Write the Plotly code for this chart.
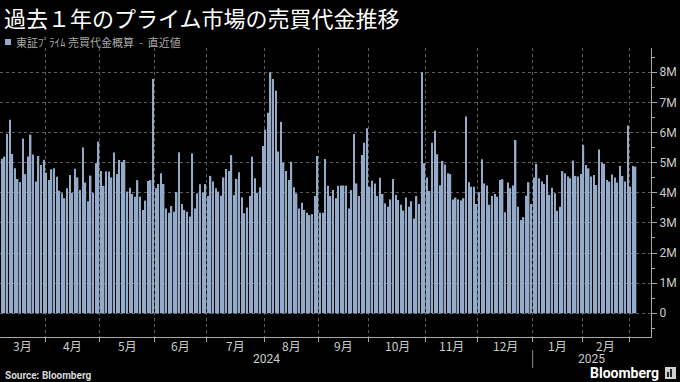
import plotly.graph_objects as go

# Daily trading value, TSE Prime (trillion yen, labelled "M"), per month
mar24 = [5.13, 5.2, 5.95, 6.42, 5.29, 4.81, 4.46, 4.36, 5.8, 4.62, 5.2, 5.93, 5.27, 4.37, 5.22, 4.92, 5.1]
apr24 = [4.67, 4.42, 4.78, 4.81, 4.53, 4.07, 3.98, 3.82, 4.15, 4.59, 4.0, 4.8, 4.51, 4.09, 5.5, 4.34, 3.72, 4.57, 4.0, 4.98, 5.7]
may24 = [4.72, 4.23, 4.71, 4.71, 4.51, 5.34, 4.62, 5.09, 5.02, 5.09, 4.04, 4.17, 3.96, 3.87, 4.42, 3.87, 3.43, 3.74, 4.39, 4.42, 7.78]
jun24 = [4.15, 4.29, 4.65, 4.29, 3.48, 3.34, 3.56, 3.37, 4.02, 5.34, 3.63, 3.43, 3.37, 3.21, 5.31, 3.48, 3.98, 4.28, 4.02, 4.29]
jul24 = [3.89, 4.56, 4.37, 4.15, 4.04, 3.9, 4.51, 4.79, 4.72, 5.25, 3.93, 4.46, 4.68, 3.85, 3.32, 3.51, 3.89, 5.2, 4.48, 4.0, 4.18, 5.55]
aug24 = [6.1, 6.66, 8.0, 7.78, 7.39, 5.37, 6.36, 5.0, 4.72, 4.42, 5.03, 4.18, 3.98, 3.48, 3.67, 3.43, 3.34, 3.26, 3.29, 3.89, 5.22]
sep24 = [3.34, 3.34, 5.12, 4.23, 3.89, 4.09, 3.82, 4.23, 4.24, 4.24, 4.23, 3.48, 4.09, 5.95, 4.31, 3.89, 5.25, 5.66, 6.14]
oct24 = [4.2, 4.4, 4.31, 3.89, 4.5, 3.96, 3.65, 3.54, 3.78, 4.46, 3.93, 3.76, 3.6, 3.41, 3.84, 3.54, 3.72, 3.15, 3.89, 3.63, 8.0, 4.98]
nov24 = [4.51, 4.06, 5.66, 6.06, 5.28, 4.25, 5.06, 4.94, 4.65, 4.62, 3.78, 3.84, 3.78, 3.74, 3.82, 6.53, 4.35, 4.2, 4.2, 3.63]
dec24 = [4.02, 5.11, 4.31, 4.24, 3.6, 3.89, 3.96, 3.87, 4.42, 4.45, 3.35, 4.34, 4.15, 4.24, 5.75, 3.54, 3.1, 3.19, 3.9, 4.35, 3.63]
jan25 = [4.51, 4.96, 4.48, 4.37, 4.29, 4.59, 3.93, 4.17, 3.98, 3.4, 3.54, 4.72, 4.65, 4.54, 4.48, 5.07, 4.56, 4.54, 4.62]
feb25 = [5.59, 4.92, 4.81, 4.54, 4.59, 4.26, 5.44, 5.0, 4.96, 4.42, 4.37, 4.61, 4.51, 4.34, 4.89, 4.56, 4.37, 6.23]
mar25 = [4.2, 4.89, 4.87]

month_data = [mar24, apr24, may24, jun24, jul24, aug24, sep24, oct24, nov24, dec24, jan25, feb25, mar25]
month_labels = ["3月", "4月", "5月", "6月", "7月", "8月", "9月", "10月", "11月", "12月", "1月", "2月", ""]
year_labels = ["2024", "2025"]
y_tick_vals = [0, 1, 2, 3, 4, 5, 6, 7, 8]
y_tick_text = ["0", "1M", "2M", "3M", "4M", "5M", "6M", "7M", "8M"]

values = [v for m in month_data for v in m]
idx = list(range(len(values)))

# month boundaries & centres in bar-index units
starts = []
s = 0
for m in month_data:
    starts.append(s)
    s += len(m)
bounds = [st - 0.5 for st in starts[1:]]
centres = [starts[i] + (len(month_data[i]) - 1) / 2 for i in range(len(month_data))]
year_break = starts[10] - 0.5

XMIN, XMAX = -0.77, 248.9
W, H = 680, 382
L, R, T, B = 0, 29, 48, 45
PW, PH = W - L - R, H - T - B

def px(x):
    return (x - L) / PW

def py(y):
    return (H - B - y) / PH

BAR = "#93aac8"
GRID = "#5c5c5c"
AX = "#a8a8a8"
CJK = "Noto Sans CJK JP"

fig = go.Figure(go.Bar(x=idx, y=values, marker_color=BAR, marker_line_width=0, hoverinfo="skip"))

annotations = [
    dict(text="過去１年のプライム市場の売買代金推移", x=px(2), y=py(17), xref="paper", yref="paper",
         xanchor="left", yanchor="middle", showarrow=False,
         font=dict(family=CJK, size=22, color="#ffffff")),
    dict(text="東証ﾌﾟﾗｲﾑ 売買代金概算  -  直近値", x=px(14), y=py(42), xref="paper", yref="paper",
         xanchor="left", yanchor="middle", showarrow=False,
         font=dict(family=CJK, size=11, color="#a8a8a8")),
    dict(text="<b>Source: Bloomberg</b>", x=px(3), y=py(375), xref="paper", yref="paper",
         xanchor="left", yanchor="middle", showarrow=False,
         font=dict(family="Roboto", size=10, color="#d8d8d8")),
    dict(text="<b>Bloomberg</b>", x=px(661), y=py(373), xref="paper", yref="paper",
         xanchor="right", yanchor="middle", showarrow=False,
         font=dict(family="Roboto", size=14, color="#ffffff")),
]
for lab, c in zip(month_labels, centres):
    if lab:
        annotations.append(dict(text=lab, x=c, y=py(345), xref="x", yref="paper",
                                xanchor="center", yanchor="middle", showarrow=False,
                                font=dict(family=CJK, size=12, color="#cccccc")))
year_pos = [(XMIN + year_break) / 2, (year_break + XMAX) / 2]
for lab, c in zip(year_labels, year_pos):
    annotations.append(dict(text=lab, x=c, y=py(359), xref="x", yref="paper",
                            xanchor="center", yanchor="middle", showarrow=False,
                            font=dict(family="Roboto", size=12, color="#cccccc")))

shapes = [
    dict(type="rect", xref="paper", yref="paper", x0=px(5), x1=px(11), y0=py(45), y1=py(39),
         fillcolor=BAR, line_width=0),
    dict(type="line", xref="x", yref="paper", x0=year_break, x1=year_break, y0=py(350), y1=py(368),
         line=dict(color="#888888", width=1)),
    dict(type="rect", xref="paper", yref="paper", x0=px(665), x1=px(676), y0=py(379), y1=py(367),
         fillcolor="#d0d0d0", line_width=0),
    dict(type="rect", xref="paper", yref="paper", x0=px(667), x1=px(669), y0=py(377), y1=py(372),
         fillcolor="#222222", line_width=0),
    dict(type="rect", xref="paper", yref="paper", x0=px(670), x1=px(672), y0=py(377), y1=py(369),
         fillcolor="#222222", line_width=0),
]

fig.update_layout(
    width=W, height=H,
    margin=dict(l=L, r=R, t=T, b=B),
    paper_bgcolor="#000000", plot_bgcolor="#000000",
    bargap=0.45, showlegend=False,
    annotations=annotations, shapes=shapes,
    xaxis=dict(range=[XMIN, XMAX], tickvals=bounds, showticklabels=False,
               ticks="outside", ticklen=4, tickcolor=AX,
               showgrid=True, gridcolor=GRID, griddash="dot", gridwidth=1,
               showline=True, linecolor=AX, linewidth=1, zeroline=False),
    yaxis=dict(side="right", range=[-0.787, 8.805], tickvals=y_tick_vals, ticktext=y_tick_text,
               ticks="outside", ticklen=5, tickcolor=AX,
               tickfont=dict(family="Roboto", size=12, color="#cccccc"),
               showgrid=True, gridcolor=GRID, griddash="dot", gridwidth=1,
               showline=True, linecolor=AX, linewidth=1, zeroline=False,
               minor=dict(dtick=0.5, tick0=0, ticks="outside", ticklen=3, tickcolor=AX, showgrid=False)),
)

fig.write_html("out.html")
